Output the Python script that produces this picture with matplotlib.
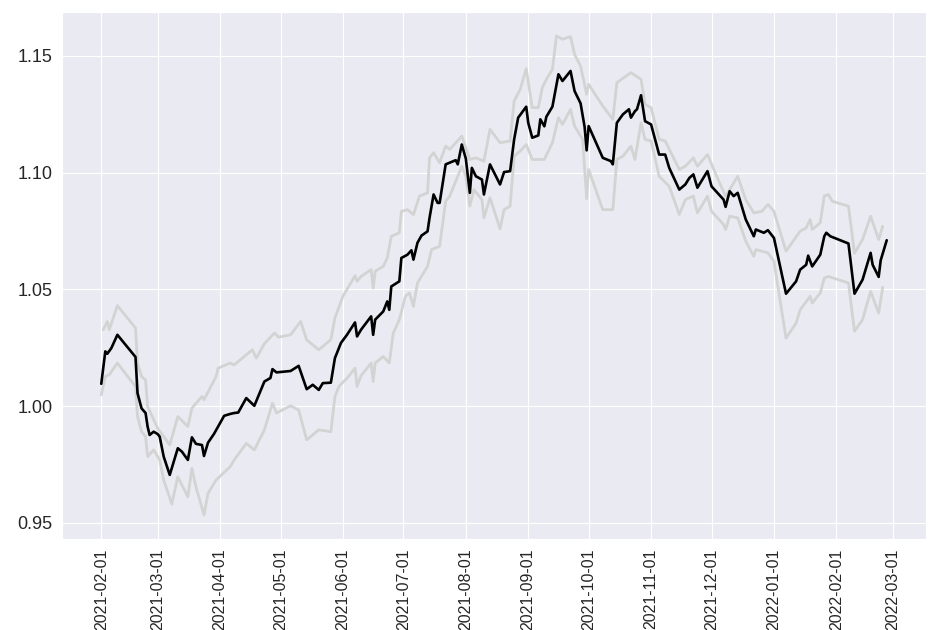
import datetime as dt
import matplotlib
matplotlib.use('Agg')
import matplotlib.pyplot as plt
import matplotlib.dates as mdates
import seaborn as sns

start = dt.date(2021, 2, 1)

# main series: days since start, value
mid_days = [0, 2, 3, 5, 8, 17, 18, 20, 22, 23, 24, 26, 28, 29, 31, 34, 38, 40, 43, 45,
            47, 50, 51, 53, 56, 58, 61, 64, 66, 68, 72, 76, 81, 84, 85, 87, 94, 98, 102, 105,
            108, 110, 114, 116, 119, 122, 126, 127, 129, 134, 135, 136, 140, 142, 143, 144, 148, 149, 152, 154,
            155, 157, 159, 162, 163, 165, 167, 168, 171, 173, 176, 177, 179, 181, 183, 184, 186, 189, 190, 193,
            198, 200, 203, 205, 207, 211, 212, 214, 217, 218, 220, 221, 224, 227, 229, 233, 235, 238, 240, 241,
            242, 249, 253, 254, 256, 259, 262, 263, 265, 266, 268, 270, 273, 277, 280, 282, 287, 290, 292, 294,
            296, 301, 303, 309, 310, 312, 314, 316, 320, 324, 325, 329, 331, 334, 340, 345, 347, 350, 351, 353,
            357, 359, 360, 362, 371, 374, 378, 382, 383, 386, 387, 390]
mid_vals = [1.0095, 1.0234, 1.0224, 1.0248, 1.0305, 1.0210, 1.0055, 0.9990, 0.9970, 0.9912, 0.9876, 0.9890, 0.9880, 0.9869, 0.9783, 0.9705, 0.9819, 0.9805, 0.9769, 0.9866,
            0.9838, 0.9833, 0.9786, 0.9843, 0.9881, 0.9912, 0.9958, 0.9966, 0.9970, 0.9972, 1.0034, 1.0001, 1.0105, 1.0120, 1.0158, 1.0144, 1.0150, 1.0172, 1.0072, 1.0091,
            1.0069, 1.0098, 1.0100, 1.0205, 1.0270, 1.0305, 1.0358, 1.0298, 1.0327, 1.0384, 1.0305, 1.0370, 1.0405, 1.0448, 1.0412, 1.0512, 1.0534, 1.0634, 1.0648, 1.0667,
            1.0627, 1.0699, 1.0730, 1.0748, 1.0806, 1.0906, 1.0870, 1.0870, 1.1035, 1.1042, 1.1053, 1.1035, 1.1120, 1.1060, 1.0913, 1.1020, 1.0984, 1.0970, 1.0906, 1.1035,
            1.0949, 1.1002, 1.1006, 1.1142, 1.1235, 1.1282, 1.1213, 1.1149, 1.1159, 1.1228, 1.1198, 1.1239, 1.1282, 1.1421, 1.1392, 1.1435, 1.1349, 1.1296, 1.1195, 1.1095,
            1.1199, 1.1063, 1.1049, 1.1035, 1.1213, 1.1249, 1.1271, 1.1235, 1.1263, 1.1271, 1.1331, 1.1220, 1.1206, 1.1077, 1.1077, 1.1020, 1.0927, 1.0949, 1.0977, 1.0992,
            1.0935, 1.1006, 1.0941, 1.0884, 1.0853, 1.0920, 1.0899, 1.0913, 1.0799, 1.0727, 1.0756, 1.0742, 1.0753, 1.0720, 1.0481, 1.0534, 1.0584, 1.0605, 1.0644, 1.0598,
            1.0648, 1.0727, 1.0742, 1.0727, 1.0696, 1.0481, 1.0541, 1.0656, 1.0605, 1.0553, 1.0624, 1.0710]

# upper band
up_days = [1, 3, 4, 8, 17, 18, 20, 22, 23, 28, 34, 38, 43, 45, 50, 51, 57, 58, 64, 66,
           75, 77, 81, 86, 88, 94, 99, 102, 108, 114, 116, 120, 126, 127, 129, 134, 135, 136, 140, 142,
           144, 148, 149, 152, 155, 158, 162, 163, 165, 168, 171, 173, 179, 183, 186, 190, 193, 198, 203, 205,
           208, 211, 214, 217, 219, 221, 224, 226, 229, 233, 235, 238, 241, 242, 249, 254, 256, 263, 268, 270,
           273, 277, 280, 287, 290, 294, 296, 301, 307, 310, 313, 316, 320, 324, 328, 331, 334, 340, 347, 350,
           352, 353, 357, 359, 361, 363, 371, 374, 378, 382, 386, 388]
up_vals = [1.0327, 1.0362, 1.0327, 1.0430, 1.0334, 1.0184, 1.0126, 1.0112, 0.9998, 0.9905, 0.9833, 0.9955, 0.9912, 0.9991, 1.0041, 1.0027, 1.0126, 1.0162, 1.0184, 1.0176,
           1.0241, 1.0205, 1.0267, 1.0313, 1.0295, 1.0305, 1.0362, 1.0283, 1.0241, 1.0284, 1.0377, 1.0470, 1.0558, 1.0534, 1.0555, 1.0584, 1.0505, 1.0577, 1.0598, 1.0634,
           1.0727, 1.0742, 1.0834, 1.0841, 1.0820, 1.0899, 1.0913, 1.1063, 1.1085, 1.1042, 1.1113, 1.1099, 1.1156, 1.1056, 1.1063, 1.1049, 1.1185, 1.1128, 1.1135, 1.1306,
           1.1356, 1.1445, 1.1278, 1.1278, 1.1364, 1.1399, 1.1442, 1.1585, 1.1571, 1.1582, 1.1506, 1.1456, 1.1335, 1.1378, 1.1285, 1.1228, 1.1385, 1.1428, 1.1399, 1.1292,
           1.1278, 1.1142, 1.1135, 1.1013, 1.1027, 1.1063, 1.1027, 1.1077, 1.0955, 1.0899, 1.0941, 1.0984, 1.0884, 1.0827, 1.0834, 1.0863, 1.0834, 1.0663, 1.0749, 1.0763,
           1.0799, 1.0756, 1.0785, 1.0899, 1.0906, 1.0877, 1.0856, 1.0655, 1.0713, 1.0813, 1.0713, 1.0770]

# lower band
lo_days = [0, 2, 4, 8, 17, 18, 20, 22, 23, 26, 29, 31, 35, 38, 43, 45, 47, 51, 53, 57,
           64, 66, 72, 76, 81, 85, 87, 94, 98, 102, 108, 114, 116, 118, 122, 126, 127, 129, 134, 135,
           136, 140, 143, 145, 148, 151, 153, 155, 157, 162, 164, 168, 171, 173, 177, 179, 181, 183, 185, 189,
           190, 193, 198, 200, 203, 205, 208, 211, 214, 220, 224, 227, 229, 233, 235, 239, 241, 242, 249, 254,
           256, 259, 263, 265, 268, 270, 273, 277, 282, 287, 290, 294, 296, 301, 303, 309, 310, 312, 316, 320,
           324, 325, 331, 334, 340, 345, 347, 352, 353, 357, 359, 361, 371, 374, 378, 382, 386, 388]
lo_vals = [1.0048, 1.0126, 1.0134, 1.0184, 1.0084, 0.9955, 0.9890, 0.9869, 0.9783, 0.9812, 0.9769, 0.9683, 0.9580, 0.9697, 0.9611, 0.9733, 0.9654, 0.9533, 0.9626, 0.9683,
           0.9740, 0.9769, 0.9840, 0.9812, 0.9898, 1.0012, 0.9970, 1.0001, 0.9983, 0.9855, 0.9898, 0.9890, 1.0040, 1.0084, 1.0119, 1.0162, 1.0084, 1.0130, 1.0184, 1.0105,
           1.0184, 1.0212, 1.0184, 1.0313, 1.0370, 1.0470, 1.0484, 1.0427, 1.0527, 1.0598, 1.0670, 1.0684, 1.0877, 1.0899, 1.0984, 1.1027, 1.0985, 1.0856, 1.0927, 1.0884,
           1.0806, 1.0892, 1.0759, 1.0841, 1.0856, 1.1070, 1.1092, 1.1120, 1.1056, 1.1056, 1.1128, 1.1235, 1.1206, 1.1271, 1.1199, 1.1142, 1.0888, 1.1013, 1.0841, 1.0841,
           1.1056, 1.1070, 1.1113, 1.1056, 1.1213, 1.1142, 1.1135, 1.0984, 1.0941, 1.0820, 1.0884, 1.0899, 1.0827, 1.0899, 1.0834, 1.0777, 1.0756, 1.0813, 1.0806, 1.0706,
           1.0641, 1.0670, 1.0656, 1.0620, 1.0291, 1.0355, 1.0412, 1.0470, 1.0441, 1.0484, 1.0548, 1.0555, 1.0527, 1.0320, 1.0370, 1.0491, 1.0398, 1.0509]


def to_dates(days):
    return [start + dt.timedelta(days=d) for d in days]


sns.set_style('darkgrid')
plt.rcParams['font.family'] = ['Liberation Sans', 'DejaVu Sans']

fig = plt.figure(figsize=(9.3, 6.3), dpi=100)
ax = fig.add_axes([62 / 930, 1 - 539 / 630, 864 / 930, 527 / 630])

ax.plot(to_dates(up_days), up_vals, color='#d3d3d3', lw=2)
ax.plot(to_dates(lo_days), lo_vals, color='#d3d3d3', lw=2)
ax.plot(to_dates(mid_days), mid_vals, color='black', lw=1.9)

ax.xaxis.set_major_locator(mdates.MonthLocator())
ax.xaxis.set_major_formatter(mdates.DateFormatter('%Y-%m-%d'))
ax.set_yticks([0.95, 1.00, 1.05, 1.10, 1.15])
ax.tick_params(axis='x', rotation=90, labelsize=11.5)
ax.tick_params(axis='y', labelsize=13)

fig.savefig('out.png', dpi=100)
